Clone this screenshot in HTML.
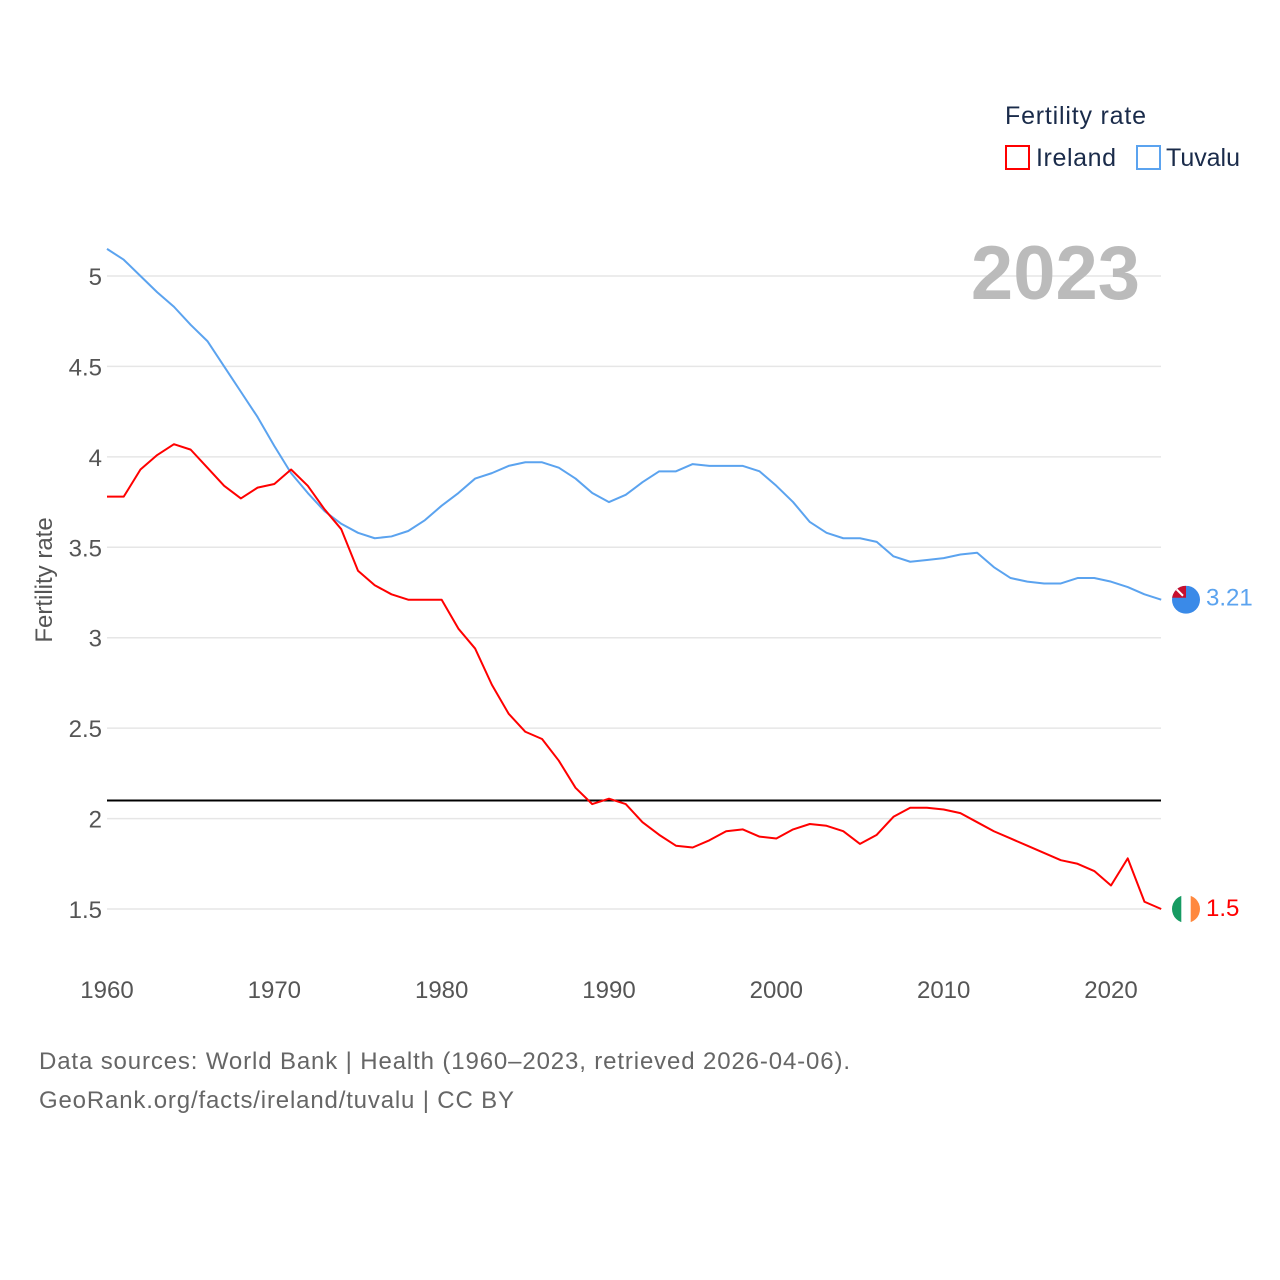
<!DOCTYPE html>
<html><head><meta charset="utf-8"><style>
body{margin:0;background:#fff;font-family:"Liberation Sans",sans-serif}
svg{display:block}
text{font-family:"Liberation Sans",sans-serif}
</style></head><body>
<svg id="c" width="1280" height="1280">
<defs>
<clipPath id="clipI"><circle cx="1186" cy="909" r="14"/></clipPath>
<clipPath id="clipT"><circle cx="1186" cy="600" r="14"/></clipPath>
</defs>
<g id="grid"></g>
<g id="ylab"></g>
<g id="xlab"></g>
<text x="52" y="580" transform="rotate(-90 52 580)" text-anchor="middle" font-size="24" fill="#555">Fertility rate</text>
<text x="1140" y="299" text-anchor="end" font-size="76" font-weight="bold" fill="#bbb">2023</text>
<text x="1005" y="124" font-size="25" fill="#1a2b4a" textLength="141">Fertility rate</text>
<g><rect x="1006" y="146" width="23" height="23" fill="none" stroke="#f00" stroke-width="2"/><text x="1036" y="166" font-size="25" fill="#1a2b4a" textLength="80">Ireland</text></g>
<g><rect x="1137" y="146" width="23" height="23" fill="none" stroke="#5ba3ef" stroke-width="2"/><text x="1166" y="166" font-size="25" fill="#1a2b4a" textLength="74">Tuvalu</text></g>
<g id="series"></g>
<text x="39" y="1069" font-size="24" fill="#666" textLength="811">Data sources: World Bank | Health (1960–2023, retrieved 2026-04-06).</text>
<text x="39" y="1108" font-size="24" fill="#666" textLength="475">GeoRank.org/facts/ireland/tuvalu | CC BY</text>
</svg>
<script>
const years=[];for(let y=1960;y<=2023;y++)years.push(y);
const ireland=[3.78,3.78,3.93,4.01,4.07,4.04,3.94,3.84,3.77,3.83,3.85,3.93,3.84,3.71,3.60,3.37,3.29,3.24,3.21,3.21,3.21,3.05,2.94,2.74,2.58,2.48,2.44,2.32,2.17,2.08,2.11,2.08,1.98,1.91,1.85,1.84,1.88,1.93,1.94,1.90,1.89,1.94,1.97,1.96,1.93,1.86,1.91,2.01,2.06,2.06,2.05,2.03,1.98,1.93,1.89,1.85,1.81,1.77,1.75,1.71,1.63,1.78,1.54,1.50];
const tuvalu=[5.15,5.09,5.00,4.91,4.83,4.73,4.64,4.50,4.36,4.22,4.06,3.91,3.80,3.70,3.63,3.58,3.55,3.56,3.59,3.65,3.73,3.80,3.88,3.91,3.95,3.97,3.97,3.94,3.88,3.80,3.75,3.79,3.86,3.92,3.92,3.96,3.95,3.95,3.95,3.92,3.84,3.75,3.64,3.58,3.55,3.55,3.53,3.45,3.42,3.43,3.44,3.46,3.47,3.39,3.33,3.31,3.30,3.30,3.33,3.33,3.31,3.28,3.24,3.21];
const yTicks=[1.5,2,2.5,3,3.5,4,4.5,5];
const xTicks=[1960,1970,1980,1990,2000,2010,2020];
const replacement=2.1;
const X=y=>107+(y-1960)*(1111-107)/60;
const Y=v=>276+(5-v)*(909-276)/3.5;
const NS='http://www.w3.org/2000/svg';
function mk(p,t,a){const e=document.createElementNS(NS,t);for(const k in a)e.setAttribute(k,a[k]);p.appendChild(e);return e;}
const grid=document.getElementById('grid'),yl=document.getElementById('ylab'),xl=document.getElementById('xlab'),s=document.getElementById('series');
yTicks.forEach(v=>{
const l=mk(grid,'line',{x1:107,x2:1161,y1:Y(v),y2:Y(v),stroke:'#e6e6e6','stroke-width':1.5});


const t=mk(yl,'text',{x:102,y:Y(v)+9,'text-anchor':'end','font-size':24,fill:'#555'});t.textContent=v;


});
xTicks.forEach(v=>{
const t=mk(xl,'text',{x:X(v),y:998,'text-anchor':'middle','font-size':24,fill:'#555'});t.textContent=v;


});
const rl=mk(s,'line',{x1:107,x2:1161,y1:Y(replacement),y2:Y(replacement),stroke:'#000','stroke-width':2});


function line(d,c,n){
const p=mk(s,'polyline',{points:d.map((v,i)=>X(years[i])+','+Y(v)).join(' '),fill:'none',stroke:c,'stroke-width':2,'stroke-linejoin':'round'});


}
line(tuvalu,'#5ba3ef','tuvalu-line');
line(ireland,'#f00','ireland-line');
const li=ireland[ireland.length-1],lt=tuvalu[tuvalu.length-1];
document.querySelector('#clipI circle').setAttribute('cy',Y(li));
document.querySelector('#clipT circle').setAttribute('cy',Y(lt));
const fi=mk(s,'g',{'clip-path':'url(#clipI)'});


mk(fi,'rect',{x:1172,y:Y(li)-14,width:28,height:28,fill:'#fff'});
mk(fi,'rect',{x:1172,y:Y(li)-14,width:9.3,height:28,fill:'#169b62'});
mk(fi,'rect',{x:1190.7,y:Y(li)-14,width:9.3,height:28,fill:'#ff883e'});
const fi2=mk(s,'g',{'clip-path':'url(#clipT)'});


mk(fi2,'rect',{x:1172,y:Y(lt)-14,width:28,height:28,fill:'#3a8ae8'});
mk(fi2,'rect',{x:1172,y:Y(lt)-14,width:14,height:12,fill:'#c8102e'});
mk(fi2,'line',{x1:1176,y1:Y(lt)-11,x2:1183,y2:Y(lt)-4,stroke:'#fff','stroke-width':2});
const t1=mk(s,'text',{x:1206,y:Y(lt)+6,'font-size':24,fill:'#5ba3ef'});t1.textContent=lt;


const t2=mk(s,'text',{x:1206,y:Y(li)+7,'font-size':24,fill:'#f00'});t2.textContent=li;


</script>
</body></html>
